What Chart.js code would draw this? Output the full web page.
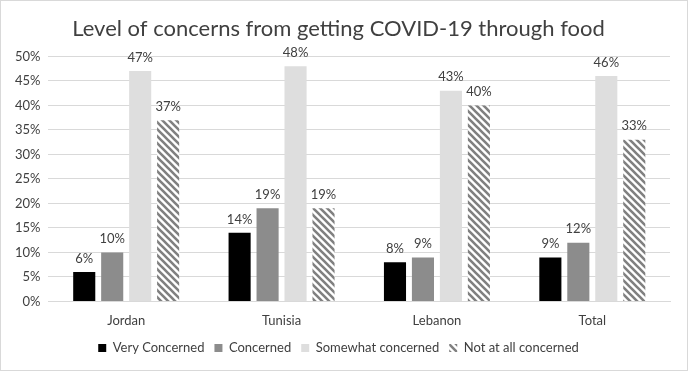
<!DOCTYPE html>
<html>
<head>
<meta charset="utf-8">
<script src="https://cdn.jsdelivr.net/npm/chart.js@4"></script>
<style>
html,body{margin:0;padding:0;background:#fff;}
#wrap{position:absolute;left:0;top:0;width:686px;height:369px;border:1px solid #d9d9d9;}
canvas{display:block;}
</style>
</head>
<body>
<div id="wrap"><canvas id="c" width="686" height="369"></canvas></div>
<script>
const categories = ["Jordan", "Tunisia", "Lebanon", "Total"];
const seriesNames = ["Very Concerned", "Concerned", "Somewhat concerned", "Not at all concerned"];
const veryConcerned = [6, 14, 8, 9];
const concerned = [10, 19, 9, 12];
const somewhatConcerned = [47, 48, 43, 46];
const notAtAllConcerned = [37, 19, 40, 33];
const yTicks = [0, 5, 10, 15, 20, 25, 30, 35, 40, 45, 50];

function hatch() {
  const s = 7;
  const p = document.createElement('canvas');
  p.width = s; p.height = s;
  const g = p.getContext('2d');
  g.fillStyle = '#ffffff';
  g.fillRect(0, 0, s, s);
  g.strokeStyle = '#808080';
  g.lineWidth = 2.6;
  g.beginPath();
  g.moveTo(-s, 0); g.lineTo(s * 2, s * 3);
  g.moveTo(-s, -s); g.lineTo(s * 2, s * 2);
  g.moveTo(0, -s); g.lineTo(s * 2, s);
  g.moveTo(-s * 2, -s); g.lineTo(s, s * 2);
  g.stroke();
  return document.getElementById('c').getContext('2d').createPattern(p, 'repeat');
}

const font = "Lato, 'Open Sans', sans-serif";

const labelPlugin = {
  id: 'valueLabels',
  afterDatasetsDraw(chart) {
    const ctx = chart.ctx;
    ctx.save();
    ctx.font = "13px " + font;
    ctx.fillStyle = '#404040';
    ctx.textAlign = 'center';
    ctx.textBaseline = 'bottom';
    chart.data.datasets.forEach((ds, i) => {
      const meta = chart.getDatasetMeta(i);
      meta.data.forEach((bar, j) => {
        ctx.fillText(ds.data[j] + '%', bar.x, bar.y - 7);
      });
    });
    ctx.restore();
  }
};

const pattern = hatch();
const common = { categoryPercentage: 0.72, barPercentage: 0.79, borderWidth: 0 };

new Chart(document.getElementById('c'), {
  type: 'bar',
  data: {
    labels: categories,
    datasets: [
      Object.assign({ label: seriesNames[0], data: veryConcerned, backgroundColor: '#000000' }, common),
      Object.assign({ label: seriesNames[1], data: concerned, backgroundColor: '#8c8c8c' }, common),
      Object.assign({ label: seriesNames[2], data: somewhatConcerned, backgroundColor: '#dedede' }, common),
      Object.assign({ label: seriesNames[3], data: notAtAllConcerned, backgroundColor: pattern }, common)
    ]
  },
  options: {
    responsive: false,
    animation: false,
    layout: { padding: { left: 6, right: 17, top: 4, bottom: 5.5 } },
    plugins: {
      title: {
        display: true,
        text: 'Level of concerns from getting COVID-19 through food',
        font: { family: font, size: 22, weight: 'normal' },
        color: '#404040',
        padding: { top: 11, bottom: 14 }
      },
      legend: {
        position: 'bottom',
        labels: {
          font: { family: font, size: 13 },
          color: '#404040',
          boxWidth: 8,
          boxHeight: 8,
          padding: 10
        }
      },
      tooltip: { enabled: false }
    },
    scales: {
      x: {
        grid: { display: false, drawTicks: false },
        border: { color: '#d9d9d9' },
        ticks: { font: { family: font, size: 13 }, color: '#404040', padding: 12 },
        afterFit: (scale) => { scale.height = 30; }
      },
      y: {
        min: 0, max: 50,
        afterBuildTicks: (axis) => { axis.ticks = yTicks.map(v => ({ value: v })); },
        grid: { color: '#d9d9d9', drawTicks: false },
        border: { display: false },
        ticks: { font: { family: font, size: 13 }, color: '#404040', padding: 8, callback: v => v + '%' }
      }
    }
  },
  plugins: [labelPlugin]
});
</script>
</body>
</html>
